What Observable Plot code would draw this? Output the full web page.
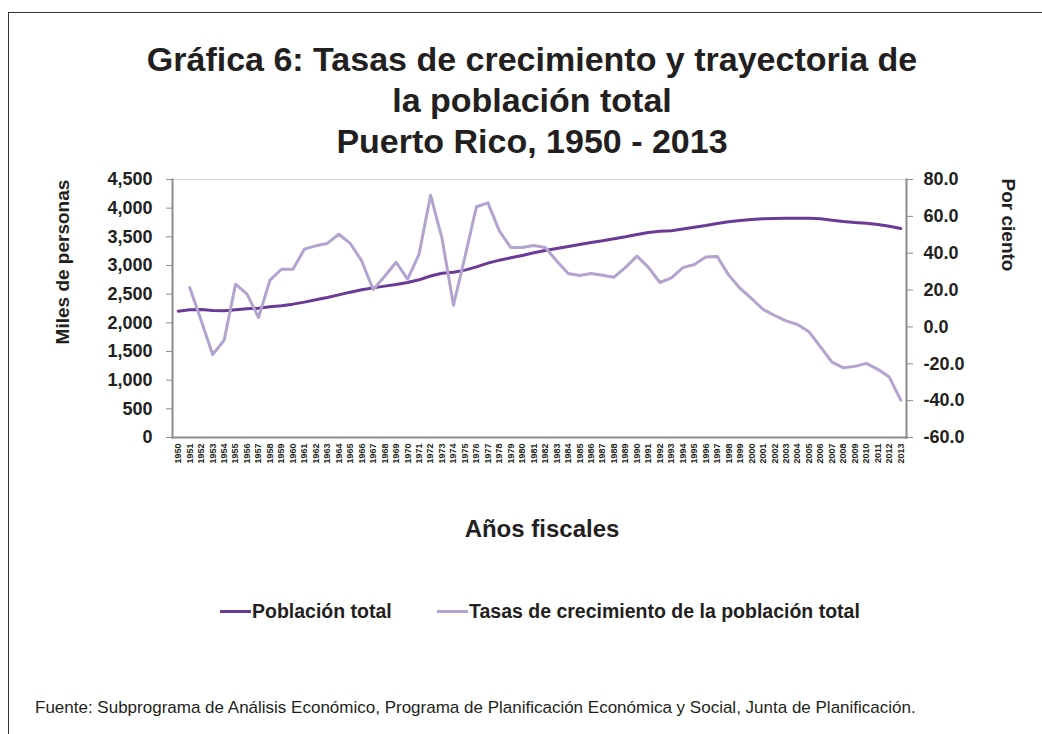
<!DOCTYPE html>
<html>
<head>
<meta charset="utf-8">
<script src="https://cdn.jsdelivr.net/npm/d3@7"></script>
<script src="https://cdn.jsdelivr.net/npm/@observablehq/plot@0.6"></script>
<style>
  body { margin: 0; background: #fff; }
  #wrap { position: relative; width: 1042px; height: 734px; overflow: hidden;
          font-family: "Liberation Sans", Arial, Helvetica, sans-serif; color: #231f20; }
  #wrap svg { position: absolute; left: 0; top: 0; }
  .abs { position: absolute; white-space: nowrap; }
  #border { position: absolute; left: 8px; top: 12px; width: 1100px; height: 800px;
            border-top: 1.5px solid #333; border-left: 1.5px solid #333; }
  #title { left: 32px; width: 1000px; top: 39px; text-align: center; font-weight: bold;
           font-size: 34px; line-height: 41px; white-space: normal; }
  .ytitle { width: 240px; height: 20px; line-height: 20px; text-align: center;
            font-weight: bold; font-size: 19px; }
  #xtitle { left: 342px; width: 400px; top: 517px; text-align: center; font-weight: bold;
            font-size: 24px; line-height: 24px; }
  .legtext { font-weight: bold; font-size: 19.5px; line-height: 20px; top: 601px; }
  .sw { height: 3px; width: 31px; top: 610px; }
  #footer { left: 35px; top: 699px; font-size: 17px; line-height: 17px; }
  #wrap svg g[aria-label$="tick label"] text, #wrap svg g[aria-label$="tick label"] { font-weight: bold; }
</style>
</head>
<body>
<div id="wrap">
  <div id="border"></div>
  <div id="title" class="abs">Gráfica 6: Tasas de crecimiento y trayectoria de<br>la población total<br>Puerto Rico, 1950 - 2013</div>
  <div class="abs ytitle" style="left:-57px; top:252px; transform: rotate(-90deg);">Miles de personas</div>
  <div class="abs ytitle" style="left:888px; top:215px; transform: rotate(90deg);">Por ciento</div>
  <div id="xtitle" class="abs">Años fiscales</div>
  <div class="abs sw" style="left:220px; background:#6b3a97;"></div>
  <div class="abs legtext" style="left:252px;">Población total</div>
  <div class="abs sw" style="left:437px; background:#b3a3cf;"></div>
  <div class="abs legtext" style="left:469px;">Tasas de crecimiento de la población total</div>
  <div id="footer" class="abs">Fuente: Subprograma de Análisis Económico, Programa de Planificación Económica y Social, Junta de Planificación.</div>
</div>
<script>
// Categories: fiscal years
const years = ["1950","1951","1952","1953","1954","1955","1956","1957","1958","1959",
  "1960","1961","1962","1963","1964","1965","1966","1967","1968","1969",
  "1970","1971","1972","1973","1974","1975","1976","1977","1978","1979",
  "1980","1981","1982","1983","1984","1985","1986","1987","1988","1989",
  "1990","1991","1992","1993","1994","1995","1996","1997","1998","1999",
  "2000","2001","2002","2003","2004","2005","2006","2007","2008","2009",
  "2010","2011","2012","2013"];

// Población total (miles de personas) – left axis
const poblacion = [2204,2227,2233,2215,2209,2227,2244,2256,2279,2297,
  2326,2361,2401,2442,2488,2535,2576,2610,2640,2669,
  2704,2750,2817,2866,2884,2919,2977,3041,3093,3134,
  3175,3221,3262,3297,3331,3366,3401,3430,3465,3500,
  3541,3576,3599,3608,3637,3669,3698,3733,3762,3785,
  3802,3814,3820,3826,3826,3826,3814,3791,3767,3750,
  3738,3715,3686,3645];

// Tasas de crecimiento de la población total (por ciento) – right axis
const tasas = [null,21.4,3.5,-15.0,-7.2,23.2,17.8,5.1,25.4,31.3,
  31.3,42.2,44.0,45.3,50.3,45.3,35.8,20.3,27.5,35.1,
  25.9,39.5,71.5,48.0,11.8,38.0,65.2,67.3,52.1,43.1,
  43.1,44.2,43.1,35.8,29.0,27.9,29.0,28.0,27.0,32.3,
  38.4,32.3,24.1,26.6,32.2,33.9,37.9,38.2,28.1,20.9,
  15.3,9.5,6.2,3.3,1.3,-2.6,-10.8,-19.1,-22.2,-21.4,
  -19.8,-23.0,-27.2,-39.7];

// Tick labels
const popTicks = [0,500,1000,1500,2000,2500,3000,3500,4000,4500];
const rateTicks = [-60,-40,-20,0,20,40,60,80];

const DARK = "#6b3a97";
const LIGHT = "#b3a3cf";
const FONT = '"Liberation Sans", Arial, Helvetica, sans-serif';

const popMin = popTicks[0], popMax = popTicks[popTicks.length - 1];
const rMin = rateTicks[0], rMax = rateTicks[rateTicks.length - 1];
const toLeft = r => popMin + (r - rMin) / (rMax - rMin) * (popMax - popMin);
const fromLeft = v => rMin + (v - popMin) / (popMax - popMin) * (rMax - rMin);

const popRows = years.map((year, i) => ({year, value: poblacion[i]}));
const rateRows = years.map((year, i) => ({year, rate: tasas[i]}))
  .filter(d => d.rate != null)
  .map(d => ({...d, y: toLeft(d.rate)}));

const chart = Plot.plot({
  width: 1042,
  height: 734,
  marginLeft: 172,
  marginRight: 136,
  marginTop: 179,
  marginBottom: 297,
  style: {fontFamily: FONT, background: "transparent", overflow: "visible", color: "#231f20"},
  x: {type: "point", domain: years, padding: 0.5, round: false, label: null},
  y: {domain: [popMin, popMax], label: null},
  marks: [
    Plot.frame({stroke: "#d9d9d9"}),
    Plot.frame({anchor: "left", stroke: "#8c8c8c", strokeWidth: 2}),
    Plot.frame({anchor: "right", stroke: "#8c8c8c", strokeWidth: 2}),
    Plot.frame({anchor: "bottom", stroke: "#8c8c8c", strokeWidth: 2}),
    Plot.axisY(popTicks, {anchor: "left", tickSize: 6, tickPadding: 14, tickFormat: d3.format(","),
      fontSize: 18, fontWeight: "bold", stroke: "#8c8c8c", fill: "#231f20", label: null}),
    Plot.axisY(rateTicks.map(toLeft), {anchor: "right", tickSize: 6, tickPadding: 11,
      tickFormat: v => ((Math.round(fromLeft(v) * 10) / 10) || 0).toFixed(1),
      fontSize: 18, fontWeight: "bold", stroke: "#8c8c8c", fill: "#231f20", label: null}),
    Plot.axisX({anchor: "bottom", tickSize: 0, tickPadding: 6, tickRotate: -90,
      fontSize: 9, fontWeight: "bold", fill: "#231f20", label: null}),
    Plot.line(popRows, {x: "year", y: "value", stroke: DARK, strokeWidth: 3}),
    Plot.line(rateRows, {x: "year", y: "y", stroke: LIGHT, strokeWidth: 3})
  ]
});
document.getElementById("wrap").appendChild(chart);
</script>
</body>
</html>
